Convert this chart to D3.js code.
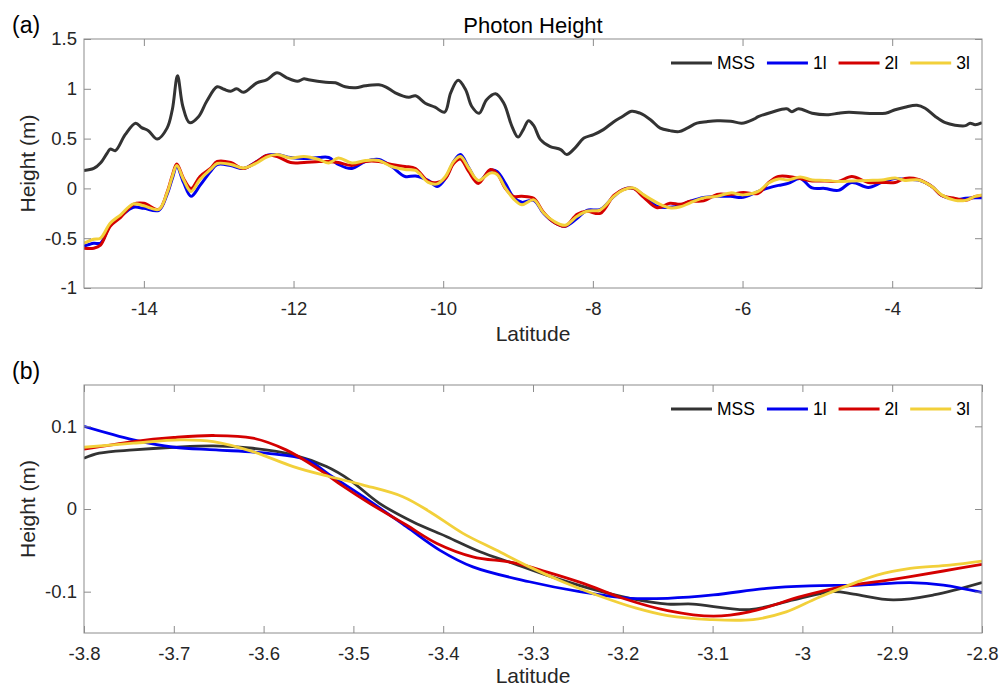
<!DOCTYPE html>
<html>
<head>
<meta charset="utf-8">
<script src="https://cdn.jsdelivr.net/npm/d3@7"></script>
<style>
body { margin: 0; background: #fff; }
svg { display: block; font-family: "Liberation Sans", Arial, Helvetica, sans-serif; }
</style>
</head>
<body>
<svg width="1001" height="688"></svg>
<script>
var seriesNames = ["MSS", "1l", "2l", "3l"];
var seriesColors = ["#333333", "#0000f0", "#d40000", "#f2d03a"];

// panel (a): MSS
var mssLatA = [-14.80, -14.67, -14.58, -14.49, -14.45, -14.38, -14.25, -14.11, -14.03, -13.94, -13.82, -13.69, -13.62, -13.55, -13.48, -13.39, -13.27, -13.16, -13.02, -12.93, -12.84, -12.76, -12.67, -12.49, -12.36, -12.22, -12.09, -11.95, -11.86, -11.80, -11.57, -11.44, -11.31, -11.17, -11.04, -10.86, -10.77, -10.64, -10.46, -10.37, -10.24, -10.11, -9.98, -9.90, -9.80, -9.70, -9.62, -9.52, -9.42, -9.30, -9.19, -9.08, -9.00, -8.93, -8.86, -8.79, -8.70, -8.57, -8.43, -8.35, -8.24, -8.12, -7.99, -7.86, -7.72, -7.61, -7.48, -7.37, -7.23, -7.10, -6.97, -6.85, -6.74, -6.61, -6.48, -6.34, -6.16, -6.01, -5.85, -5.79, -5.61, -5.41, -5.34, -5.25, -5.07, -4.85, -4.72, -4.58, -4.36, -4.09, -3.96, -3.83, -3.67, -3.56, -3.42, -3.29, -3.16, -3.02, -2.96, -2.89, -2.80];
var mssA = [0.18, 0.20, 0.255, 0.355, 0.395, 0.38, 0.54, 0.655, 0.61, 0.58, 0.495, 0.605, 0.79, 1.13, 0.825, 0.66, 0.72, 0.875, 1.02, 0.995, 0.975, 1.0, 0.965, 1.06, 1.09, 1.16, 1.11, 1.075, 1.10, 1.09, 1.065, 1.06, 1.02, 1.01, 1.03, 1.04, 1.02, 0.96, 0.915, 0.93, 0.855, 0.815, 0.765, 0.96, 1.085, 0.99, 0.825, 0.755, 0.89, 0.95, 0.855, 0.62, 0.515, 0.59, 0.68, 0.63, 0.49, 0.42, 0.39, 0.34, 0.405, 0.505, 0.54, 0.59, 0.67, 0.72, 0.775, 0.755, 0.69, 0.605, 0.58, 0.57, 0.605, 0.655, 0.67, 0.68, 0.675, 0.655, 0.695, 0.72, 0.765, 0.80, 0.77, 0.80, 0.755, 0.74, 0.755, 0.765, 0.755, 0.755, 0.79, 0.815, 0.835, 0.805, 0.72, 0.66, 0.635, 0.63, 0.655, 0.64, 0.66];

// panel (a): 1l, 2l, 3l on a shared latitude grid
var latA = [-14.80, -14.67, -14.58, -14.45, -14.31, -14.14, -14.00, -13.80, -13.69, -13.62, -13.56, -13.47, -13.37, -13.25, -13.11, -13.02, -12.84, -12.67, -12.49, -12.36, -12.22, -12.04, -11.86, -11.66, -11.53, -11.40, -11.22, -11.04, -10.86, -10.69, -10.51, -10.37, -10.20, -10.08, -9.97, -9.86, -9.77, -9.66, -9.53, -9.37, -9.28, -9.17, -9.06, -8.95, -8.79, -8.66, -8.52, -8.37, -8.21, -8.08, -7.90, -7.72, -7.59, -7.46, -7.32, -7.14, -6.97, -6.83, -6.70, -6.52, -6.34, -6.16, -5.99, -5.79, -5.65, -5.52, -5.39, -5.23, -5.07, -4.90, -4.72, -4.54, -4.32, -4.14, -3.96, -3.83, -3.65, -3.47, -3.34, -3.16, -3.02, -2.89, -2.80];
var l1A = [-0.58, -0.55, -0.55, -0.37, -0.28, -0.19, -0.20, -0.22, -0.06, 0.10, 0.22, 0.06, -0.08, 0.03, 0.17, 0.24, 0.23, 0.20, 0.27, 0.33, 0.34, 0.31, 0.30, 0.31, 0.31, 0.24, 0.20, 0.27, 0.29, 0.22, 0.12, 0.125, 0.08, 0.02, 0.10, 0.27, 0.34, 0.21, 0.07, 0.18, 0.17, 0.05, -0.09, -0.14, -0.12, -0.25, -0.34, -0.38, -0.30, -0.22, -0.21, -0.08, -0.01, 0.0, -0.07, -0.18, -0.19, -0.17, -0.13, -0.09, -0.08, -0.08, -0.09, -0.03, 0.005, 0.03, 0.05, 0.10, 0.005, 0.0, -0.02, 0.06, 0.01, 0.06, 0.10, 0.09, 0.085, 0.02, -0.07, -0.11, -0.10, -0.095, -0.095];
var l2A = [-0.60, -0.60, -0.57, -0.38, -0.29, -0.16, -0.15, -0.21, -0.04, 0.13, 0.245, 0.10, 0.0, 0.12, 0.20, 0.27, 0.26, 0.20, 0.27, 0.33, 0.32, 0.26, 0.26, 0.27, 0.27, 0.26, 0.23, 0.27, 0.27, 0.24, 0.22, 0.20, 0.07, 0.06, 0.10, 0.25, 0.295, 0.17, 0.05, 0.19, 0.15, 0.0, -0.08, -0.08, -0.10, -0.24, -0.34, -0.38, -0.26, -0.23, -0.25, -0.07, -0.01, 0.0, -0.09, -0.195, -0.15, -0.16, -0.13, -0.125, -0.06, -0.06, -0.04, -0.05, 0.06, 0.12, 0.12, 0.10, 0.075, 0.075, 0.07, 0.12, 0.06, 0.06, 0.06, 0.10, 0.09, 0.02, -0.07, -0.10, -0.12, -0.08, -0.07];
var l3A = [-0.55, -0.51, -0.50, -0.35, -0.265, -0.155, -0.175, -0.21, -0.045, 0.12, 0.23, 0.09, -0.03, 0.09, 0.19, 0.25, 0.24, 0.205, 0.255, 0.315, 0.34, 0.305, 0.32, 0.29, 0.255, 0.305, 0.255, 0.28, 0.28, 0.22, 0.19, 0.18, 0.06, 0.045, 0.12, 0.27, 0.32, 0.205, 0.08, 0.155, 0.14, 0.005, -0.105, -0.165, -0.115, -0.245, -0.33, -0.37, -0.28, -0.23, -0.215, -0.08, -0.015, 0.005, -0.065, -0.145, -0.195, -0.185, -0.145, -0.095, -0.08, -0.045, -0.065, -0.03, 0.055, 0.095, 0.085, 0.115, 0.085, 0.08, 0.07, 0.075, 0.08, 0.085, 0.105, 0.08, 0.085, 0.02, -0.065, -0.12, -0.12, -0.08, -0.065];

// panel (b)
var mssLatB = [-3.80, -3.783, -3.745, -3.70, -3.656, -3.612, -3.567, -3.530, -3.504, -3.471, -3.434, -3.396, -3.359, -3.322, -3.285, -3.237, -3.192, -3.150, -3.122, -3.059, -3.010, -2.966, -2.943, -2.899, -2.854, -2.80];
var mssB = [0.0614, 0.0675, 0.0715, 0.0747, 0.0764, 0.0735, 0.0655, 0.0513, 0.035, 0.0069, -0.0154, -0.0335, -0.0517, -0.0658, -0.080, -0.096, -0.108, -0.115, -0.115, -0.1216, -0.110, -0.100, -0.103, -0.110, -0.104, -0.089];
var l1LatB = [-3.80, -3.745, -3.70, -3.653, -3.597, -3.552, -3.526, -3.489, -3.441, -3.404, -3.367, -3.304, -3.248, -3.192, -3.150, -3.099, -3.04, -2.992, -2.936, -2.880, -2.843, -2.80];
var l1B = [0.100, 0.0836, 0.0747, 0.0715, 0.0675, 0.0594, 0.041, 0.0149, -0.0214, -0.0497, -0.070, -0.088, -0.100, -0.108, -0.108, -0.104, -0.096, -0.093, -0.092, -0.089, -0.092, -0.101];
var l2LatB = [-3.80, -3.745, -3.70, -3.656, -3.612, -3.575, -3.537, -3.512, -3.482, -3.441, -3.407, -3.367, -3.322, -3.285, -3.244, -3.200, -3.150, -3.099, -3.059, -3.0, -2.955, -2.899, -2.843, -2.80];
var l2B = [0.0723, 0.0816, 0.0865, 0.0889, 0.0857, 0.0715, 0.047, 0.028, 0.0069, -0.0194, -0.0416, -0.0578, -0.065, -0.076, -0.090, -0.108, -0.123, -0.1297, -0.1245, -0.1055, -0.094, -0.085, -0.075, -0.067];
var l3LatB = [-3.80, -3.745, -3.693, -3.656, -3.612, -3.567, -3.526, -3.489, -3.445, -3.415, -3.378, -3.341, -3.304, -3.267, -3.229, -3.185, -3.150, -3.103, -3.055, -3.018, -2.984, -2.951, -2.917, -2.880, -2.836, -2.80];
var l3B = [0.0747, 0.0796, 0.0836, 0.0816, 0.0695, 0.0513, 0.039, 0.029, 0.0149, -0.0033, -0.0295, -0.0497, -0.070, -0.088, -0.104, -0.120, -0.129, -0.1337, -0.1337, -0.1245, -0.108, -0.0933, -0.080, -0.0719, -0.0679, -0.063];

var xTicksA = [-14, -12, -10, -8, -6, -4];
var yTicksA = [-1, -0.5, 0, 0.5, 1, 1.5];
var xTicksB = [-3.8, -3.7, -3.6, -3.5, -3.4, -3.3, -3.2, -3.1, -3, -2.9, -2.8];
var yTicksB = [-0.1, 0, 0.1];

var svg = d3.select("svg");
var left = 84, right = 982;
var axisColor = "#8c8c8c", textColor = "#262626";
var fmt = function(d) { return String(d); };

function zip(xs, ys) {
    return xs.map(function(v, i) { return {x: v, y: ys[i]}; });
}

function drawPanel(p) {
    var x = d3.scaleLinear().domain(p.xDomain).range([left, right]);
    var y = d3.scaleLinear().domain(p.yDomain).range([p.bottom, p.top]);
    var g = svg.append("g");

    g.append("clipPath").attr("id", "clip" + p.id)
        .append("rect")
        .attr("x", left).attr("y", p.top)
        .attr("width", right - left).attr("height", p.bottom - p.top);

    var line = d3.line()
        .curve(d3.curveCatmullRom.alpha(0.5))
        .x(function(d) { return x(d.x); })
        .y(function(d) { return y(d.y); });

    g.append("g")
        .attr("clip-path", "url(#clip" + p.id + ")")
        .selectAll("path")
        .data(p.series)
        .enter().append("path")
        .attr("fill", "none")
        .attr("stroke", function(d, i) { return seriesColors[i]; })
        .attr("stroke-width", p.lineWidth)
        .attr("stroke-linejoin", "round")
        .attr("d", function(d) { return line(d); });

    // axes, ticks pointing inward on all four sides
    var bottomAx = g.append("g")
        .attr("transform", "translate(0," + p.bottom + ")")
        .call(d3.axisBottom(x).tickValues(p.xTicks).tickFormat(fmt)
            .tickSizeInner(-7).tickSizeOuter(0).tickPadding(14));
    var leftAx = g.append("g")
        .attr("transform", "translate(" + left + ",0)")
        .call(d3.axisLeft(y).tickValues(p.yTicks).tickFormat(fmt)
            .tickSizeInner(-7).tickSizeOuter(0).tickPadding(7));
    var topAx = g.append("g")
        .attr("transform", "translate(0," + p.top + ")")
        .call(d3.axisTop(x).tickValues(p.xTicks).tickFormat("")
            .tickSizeInner(-7).tickSizeOuter(0));
    var rightAx = g.append("g")
        .attr("transform", "translate(" + right + ",0)")
        .call(d3.axisRight(y).tickValues(p.yTicks).tickFormat("")
            .tickSizeInner(-7).tickSizeOuter(0));

    [bottomAx, leftAx, topAx, rightAx].forEach(function(a) {
        a.select(".domain").remove();
        a.selectAll("line").attr("stroke", axisColor);
        a.selectAll("text")
            .attr("fill", textColor)
            .style("font-size", "18.5px")
            .style("font-family", "'Liberation Sans', Arial, sans-serif");
    });

    g.append("rect")
        .attr("x", left).attr("y", p.top)
        .attr("width", right - left).attr("height", p.bottom - p.top)
        .attr("fill", "none").attr("stroke", axisColor).attr("stroke-width", 1);

    g.append("text")
        .attr("x", (left + right) / 2).attr("y", p.bottom + p.xLabelGap)
        .attr("text-anchor", "middle")
        .attr("fill", textColor).style("font-size", "21px")
        .text("Latitude");

    g.append("text")
        .attr("transform", "translate(35," + ((p.top + p.bottom) / 2) + ") rotate(-90)")
        .attr("text-anchor", "middle")
        .attr("fill", textColor).style("font-size", "21px")
        .text("Height (m)");

    g.append("text")
        .attr("x", 12).attr("y", p.top - 6)
        .attr("fill", "#000").style("font-size", "23px")
        .text(p.label);

    if (p.title) {
        g.append("text")
            .attr("x", (left + right) / 2).attr("y", p.top - 6)
            .attr("text-anchor", "middle")
            .attr("fill", "#000").style("font-size", "22px")
            .text(p.title);
    }

    // legend
    var lg = g.append("g").attr("transform", "translate(0," + (p.top + 24) + ")");
    var cx = 671;
    seriesNames.forEach(function(name, i) {
        lg.append("line")
            .attr("x1", cx).attr("x2", cx + 41)
            .attr("stroke", seriesColors[i]).attr("stroke-width", 3);
        var t = lg.append("text")
            .attr("x", cx + 46).attr("dy", "0.35em")
            .attr("fill", "#000").style("font-size", "17.5px")
            .text(name);
        cx += 46 + t.node().getComputedTextLength() + 12;
    });
}

drawPanel({
    id: "a", label: "(a)", title: "Photon Height",
    top: 39, bottom: 288, xLabelGap: 53,
    xDomain: [-14.8, -2.8], yDomain: [-1, 1.5],
    xTicks: xTicksA, yTicks: yTicksA, lineWidth: 3,
    series: [zip(mssLatA, mssA), zip(latA, l1A), zip(latA, l2A), zip(latA, l3A)]
});

drawPanel({
    id: "b", label: "(b)", title: null,
    top: 385, bottom: 633, xLabelGap: 50,
    xDomain: [-3.8, -2.8], yDomain: [-0.15, 0.15],
    xTicks: xTicksB, yTicks: yTicksB, lineWidth: 2.8,
    series: [zip(mssLatB, mssB), zip(l1LatB, l1B), zip(l2LatB, l2B), zip(l3LatB, l3B)]
});
</script>
</body>
</html>
